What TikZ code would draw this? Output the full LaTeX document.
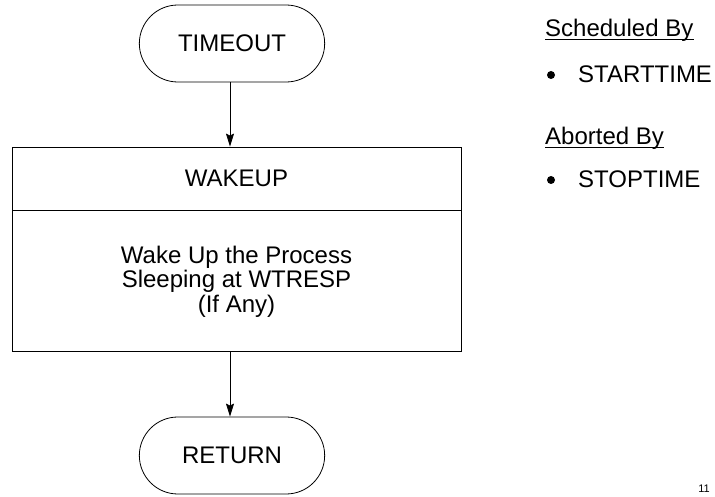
\documentclass[tikz,border=0pt]{standalone}
\usepackage{fontspec}
\setmainfont{Liberation Sans}
\usepackage{tikz}
\usetikzlibrary{arrows.meta,positioning,shapes.misc}

\begin{document}
\begin{tikzpicture}[x=1pt,y=1pt,
  terminal/.style={draw,line width=0.8pt,rounded rectangle,minimum width=192pt,minimum height=77pt,font=\fontsize{24}{25}\selectfont},
  stepbox/.style={draw,line width=0.8pt,rectangle,minimum width=449pt,align=center,font=\fontsize{24}{24.5}\selectfont},
  flow/.style={line width=0.8pt,-{Stealth[length=13pt,width=8pt,inset=2pt]}},
  note/.style={anchor=base west,inner sep=0pt,font=\fontsize{24}{25}\selectfont}]
\useasboundingbox (0,0) rectangle (715,496);

\node[terminal] (timeout) at (232,452.5) {TIMEOUT};
\node[stepbox,minimum height=63pt] (wakeup) at (236.5,317.5) {WAKEUP};
\node[stepbox,minimum height=141pt,below=0pt of wakeup] (body) {Wake Up the Process\\Sleeping at WTRESP\\(If Any)};
\node[terminal] (return) at (232,40.5) {RETURN};

\draw[flow] ([xshift=-2pt]timeout.south) -- ([xshift=-2pt]timeout.south |- wakeup.north);
\draw[flow] ([xshift=-2pt]return.north |- body.south) -- ([xshift=-2pt]return.north);

\node[note] (sched) at (545,459) {Scheduled By};
\draw[line width=0.8pt] ([yshift=-2.5pt]sched.base west) -- ([yshift=-2.5pt]sched.base east);
\fill (551,421) circle (4pt);
\node[note] (start) at (578,413) {STARTTIME};
\node[note] (abort) at (545,351) {Aborted By};
\draw[line width=0.8pt] ([yshift=-2.5pt]abort.base west) -- ([yshift=-2.5pt]abort.base east);
\fill (551,316) circle (4pt);
\node[note] (stop) at (578,308) {STOPTIME};

\node[anchor=base east,inner sep=0pt,font=\fontsize{11}{12}\selectfont] (page) at (710,4) {11};
\end{tikzpicture}
\end{document}
